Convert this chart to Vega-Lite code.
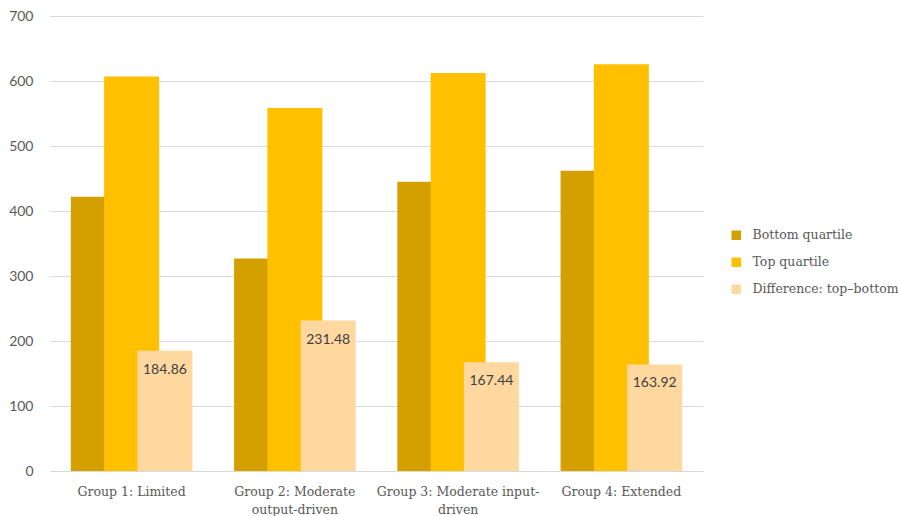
{
  "$schema": "https://vega.github.io/schema/vega-lite/v6.json",
  "autosize": {"type": "none"},
  "width": 653,
  "height": 455,
  "padding": {"left": 50, "top": 16, "right": 195, "bottom": 45},
  "background": "white",
  "config": {
    "view": {"stroke": null},
    "axis": {"labelColor": "#595959", "titleColor": "#595959"},
    "legend": {"labelColor": "#595959"}
  },
  "data": {
    "values": [
      {"group": "Group 1: Limited", "series": "Bottom quartile", "value": 422},
      {"group": "Group 1: Limited", "series": "Top quartile", "value": 606.86},
      {"group": "Group 1: Limited", "series": "Difference: top–bottom", "value": 184.86},
      {"group": "Group 2: Moderate output-driven", "series": "Bottom quartile", "value": 327},
      {"group": "Group 2: Moderate output-driven", "series": "Top quartile", "value": 558.48},
      {"group": "Group 2: Moderate output-driven", "series": "Difference: top–bottom", "value": 231.48},
      {"group": "Group 3: Moderate input-driven", "series": "Bottom quartile", "value": 445},
      {"group": "Group 3: Moderate input-driven", "series": "Top quartile", "value": 612.44},
      {"group": "Group 3: Moderate input-driven", "series": "Difference: top–bottom", "value": 167.44},
      {"group": "Group 4: Extended", "series": "Bottom quartile", "value": 462},
      {"group": "Group 4: Extended", "series": "Top quartile", "value": 625.92},
      {"group": "Group 4: Extended", "series": "Difference: top–bottom", "value": 163.92}
    ]
  },
  "encoding": {
    "x": {
      "field": "group",
      "type": "nominal",
      "sort": null,
      "scale": {"paddingInner": 0, "paddingOuter": 0},
      "axis": {
        "title": null,
        "labelAngle": 0,
        "labelFont": "DejaVu Serif",
        "labelFontSize": 12.5,
        "labelPadding": 14,
        "labelLineHeight": 18,
        "ticks": false,
        "domainColor": "#d9d9d9",
        "domainWidth": 1,
        "labelExpr": "datum.value == 'Group 2: Moderate output-driven' ? ['Group 2: Moderate', 'output-driven'] : datum.value == 'Group 3: Moderate input-driven' ? ['Group 3: Moderate input-', 'driven'] : datum.value"
      }
    },
    "y": {
      "field": "value",
      "type": "quantitative",
      "scale": {"domain": [0, 700], "nice": false},
      "axis": {
        "title": null,
        "values": [0, 100, 200, 300, 400, 500, 600, 700],
        "domain": false,
        "ticks": false,
        "labelFont": "Lato",
        "labelFontSize": 14,
        "labelPadding": 17,
        "gridColor": "#d9d9d9",
        "gridWidth": 1
      }
    },
    "color": {
      "field": "series",
      "type": "nominal",
      "scale": {
        "domain": ["Bottom quartile", "Top quartile", "Difference: top–bottom"],
        "range": ["#d4a000", "#ffc000", "#ffd8a0"]
      },
      "legend": {
        "title": null,
        "orient": "none",
        "legendX": 680,
        "legendY": 213,
        "symbolType": "square",
        "symbolSize": 90,
        "symbolStrokeWidth": 0,
        "labelFont": "DejaVu Serif",
        "labelFontSize": 12.5,
        "labelOffset": 10,
        "rowPadding": 14
      }
    }
  },
  "layer": [
    {
      "transform": [{"filter": "datum.series == 'Bottom quartile'"}],
      "mark": {"type": "bar", "width": 55, "xOffset": -33.3}
    },
    {
      "transform": [{"filter": "datum.series == 'Top quartile'"}],
      "mark": {"type": "bar", "width": 55, "xOffset": 0}
    },
    {
      "transform": [{"filter": "datum.series == 'Difference: top–bottom'"}],
      "mark": {"type": "bar", "width": 55, "xOffset": 33.3}
    },
    {
      "transform": [{"filter": "datum.series == 'Difference: top–bottom'"}],
      "mark": {
        "type": "text",
        "xOffset": 33.3,
        "dy": 19,
        "font": "Lato",
        "fontSize": 14,
        "color": "#404040"
      },
      "encoding": {
        "text": {"field": "value", "type": "quantitative", "format": ".2f"},
        "color": {"value": "#404040"}
      }
    }
  ]
}
